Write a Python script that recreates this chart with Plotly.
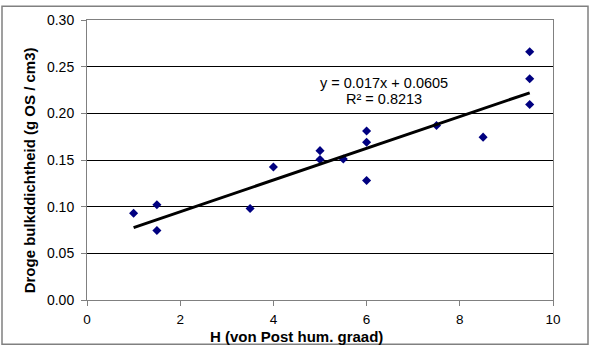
import plotly.graph_objects as go

# Data
h_values = [1.0, 1.5, 1.5, 3.5, 4.0, 5.0, 5.0, 5.5, 6.0, 6.0, 6.0, 7.5, 8.5, 9.5, 9.5, 9.5]
density = [0.093, 0.102, 0.0745, 0.098, 0.1425, 0.160, 0.1505, 0.151, 0.181, 0.169, 0.128,
           0.187, 0.1745, 0.266, 0.237, 0.2095]

trend_slope = 0.017
trend_intercept = 0.0605
trend_x = [min(h_values), max(h_values)]
trend_eq = "y = 0.017x + 0.0605"
trend_r2 = "R² = 0.8213"

x_ticks = [0, 2, 4, 6, 8, 10]
y_ticks = [0.00, 0.05, 0.10, 0.15, 0.20, 0.25, 0.30]

x_title = "<b>H (von Post hum. graad)</b>"
y_title = "<b>Droge bulkddichtheid (g OS / cm3)</b>"

trend_y = [trend_slope * x + trend_intercept for x in trend_x]

W, H = 595, 352
ml, mr, mt, mb = 87, 42, 15, 52
pw, ph = W - ml - mr, H - mt - mb


def px_x(p):
    return (p - ml) / pw


def px_y(p):
    return (H - mb - p) / ph


fig = go.Figure()
fig.add_trace(go.Scatter(
    x=h_values, y=density, mode="markers",
    marker=dict(symbol="diamond", size=7, color="#000080"),
    showlegend=False, hoverinfo="x+y"))
fig.add_trace(go.Scatter(
    x=trend_x, y=trend_y, mode="lines",
    line=dict(color="black", width=3),
    showlegend=False, hoverinfo="skip"))

font_family = "Liberation Sans, Arial, sans-serif"

fig.update_layout(
    width=W, height=H,
    margin=dict(l=ml, r=mr, t=mt, b=mb),
    paper_bgcolor="white", plot_bgcolor="white",
    font=dict(family=font_family, size=14, color="black"),
    xaxis=dict(
        range=[0, 10], tickvals=x_ticks, ticktext=[str(v) for v in x_ticks],
        showgrid=False, zeroline=False,
        showline=True, linecolor="#808080", linewidth=1, mirror=True,
        ticks="outside", ticklen=5, tickcolor="#808080",
        tickfont=dict(size=13.5), ticklabelstandoff=2,
    ),
    yaxis=dict(
        range=[0, 0.30], tickvals=y_ticks, ticktext=[f"{v:.2f}" for v in y_ticks],
        showgrid=True, gridcolor="black", gridwidth=1, zeroline=False,
        showline=True, linecolor="#808080", linewidth=1, mirror=True,
        ticks="outside", ticklen=5, tickcolor="#808080",
        tickfont=dict(size=14), ticklabelstandoff=4,
    ),
    annotations=[
        dict(x=6.37, y=px_y(79), xref="x", yref="paper", text=trend_eq,
             showarrow=False, font=dict(size=14.5, color="black"),
             xanchor="center", yanchor="middle"),
        dict(x=6.37, y=px_y(95), xref="x", yref="paper", text=trend_r2,
             showarrow=False, font=dict(size=14.5, color="black"),
             xanchor="center", yanchor="middle"),
        dict(x=px_x(296), y=px_y(337), xref="paper", yref="paper", text=x_title,
             showarrow=False, font=dict(size=15, color="black"),
             xanchor="center", yanchor="middle"),
        dict(x=px_x(29), y=px_y(168), xref="paper", yref="paper", text=y_title,
             showarrow=False, font=dict(size=15, color="black"), textangle=-90,
             xanchor="center", yanchor="middle"),
    ],
    shapes=[dict(
        type="rect", xref="paper", yref="paper",
        x0=px_x(2), x1=px_x(588), y0=px_y(345), y1=px_y(1),
        line=dict(color="#808080", width=1.5), layer="below")],
)

fig.write_html("out.html")
